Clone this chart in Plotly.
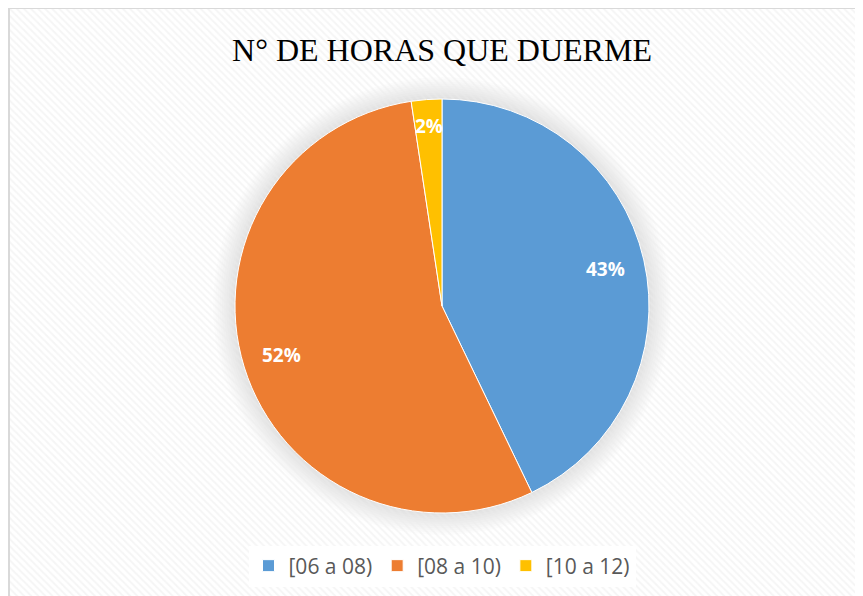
import math
import plotly.graph_objects as go

categories = ["[06 a 08)", "[08 a 10)", "[10 a 12)"]
values = [18, 23, 1]
labels_text = ["43%", "52%", "2%"]
colors = ["#5B9BD5", "#ED7D31", "#FFC000"]
title = "N° DE HORAS QUE DUERME"

# page body has an 8px margin; work in figure pixel coordinates
OFF = 8
W, H = 863 - OFF, 596 - OFF
cx, cy, r = 442 - OFF, 306 - OFF, 207

fig = go.Figure()

# soft shadow/glow around the pie (drawn below traces)
shapes = []
for i in range(10):
    rr = r + 22 - i * 2.2
    shapes.append(dict(type="circle", xref="paper", yref="paper", layer="below",
                       x0=(cx - rr) / W, x1=(cx + rr) / W,
                       y0=1 - (cy + rr) / H, y1=1 - (cy - rr) / H,
                       fillcolor="rgba(0,0,0,0.011)", line=dict(width=0)))
# chart frame
shapes.append(dict(type="rect", xref="paper", yref="paper",
                   x0=1 / W, x1=1.01, y0=-0.01, y1=1,
                   line=dict(color="#d9d9d9", width=2)))

# patterned chart-area background (transparent base so the glow shows)
fig.add_trace(go.Bar(
    x=[0.5], y=[1], width=[1], showlegend=False, hoverinfo="skip",
    marker=dict(color="rgba(0,0,0,0)", line=dict(width=0),
                pattern=dict(shape="\\", fgcolor="#ececec", bgcolor="rgba(0,0,0,0)",
                             size=5, solidity=0.4, fillmode="overlay")),
    xaxis="x", yaxis="y",
))

fig.add_trace(go.Pie(
    labels=categories, values=values, textinfo="none",
    sort=False, direction="clockwise", rotation=0,
    marker=dict(colors=colors, line=dict(color="white", width=1)),
    domain=dict(x=[(cx - r) / W, (cx + r) / W],
                y=[(H - cy - r) / H, (H - cy + r) / H]),
))

# data labels positioned like Excel (radial, outer part of each slice)
total = sum(values)
annotations = []
cum = 0
for v, t in zip(values, labels_text):
    frac = v / total
    mid = (cum + frac / 2) * 2 * math.pi
    cum += frac
    d = r * (0.87 if frac < 0.05 else 0.81)
    px = cx + d * math.sin(mid)
    py = cy - d * math.cos(mid)
    annotations.append(dict(x=px / W, y=1 - py / H, xref="paper", yref="paper",
                            text=t, showarrow=False, xanchor="center", yanchor="middle",
                            font=dict(family="Open Sans", size=19, color="white",
                                      weight="bold")))

fig.update_layout(
    width=W, height=H,
    margin=dict(l=0, r=0, t=0, b=0),
    paper_bgcolor="white", plot_bgcolor="rgba(0,0,0,0)",
    xaxis=dict(domain=[1 / W, 1], range=[0, 1], visible=False, fixedrange=True),
    yaxis=dict(domain=[0, 1], range=[0, 1], visible=False, fixedrange=True),
    bargap=0,
    title=dict(text=title, x=(442 - OFF) / W, xanchor="center",
               y=1 - (50 - OFF) / H, yanchor="middle",
               font=dict(family="Liberation Serif", size=32, color="black")),
    legend=dict(orientation="h", x=(442 - OFF) / W, xanchor="center",
                y=1 - (566 - OFF) / H, yanchor="middle", bgcolor="white",
                font=dict(family="Open Sans", size=21, color="#595959"),
                traceorder="normal"),
    shapes=shapes,
    annotations=annotations,
)

fig.write_html("out.html")
